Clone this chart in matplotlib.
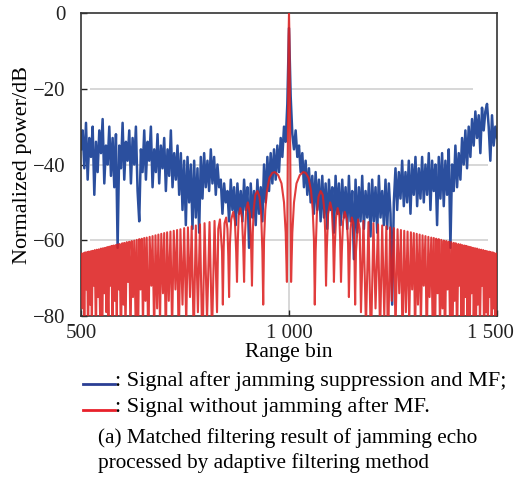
import numpy as np
import matplotlib.pyplot as plt
from matplotlib.transforms import ScaledTranslation

plt.rcParams['font.family'] = ['Liberation Serif', 'DejaVu Serif']

# blue: signal after jamming suppression and MF (read every 4 range bins)
blue_bins = np.arange(500, 1501, 4)
blue_db = [
    -36, -31, -41, -29, -44, -33, -38, -30, -48, -34,
    -42, -31, -37, -28, -45, -35, -40, -30, -43, -33,
    -46, -32, -62, -35, -41, -29, -44, -34, -39, -31,
    -45, -33, -40, -30, -47, -55, -36, -42, -31, -44,
    -34, -39, -30, -46, -36, -42, -32, -45, -35, -41,
    -33, -47, -36, -43, -31, -46, -37, -44, -35, -48,
    -37, -52, -39, -56, -38, -50, -40, -57, -39, -54,
    -41, -58, -38, -49, -37, -46, -39, -47, -36, -45,
    -38, -48, -40, -46, -44, -53, -45, -50, -47, -55,
    -44, -52, -46, -56, -45, -53, -47, -55, -44, -52,
    -46, -62, -45, -54, -47, -56, -44, -53, -46, -55,
    -40, -50, -38, -47, -37, -45, -36, -44, -35, -42,
    -33, -38, -30, -34, -24,
    -4,
    -22, -32, -36, -31, -38, -35, -42, -37, -46,
    -39, -48, -41, -50, -43, -53, -42, -52, -44, -55,
    -43, -54, -45, -57, -44, -52, -46, -58, -43, -53,
    -45, -56, -44, -54, -46, -57, -43, -55, -47, -65,
    -44, -58, -46, -55, -43, -57, -47, -54, -45, -59,
    -44, -55, -46, -58, -43, -54, -47, -56, -44, -57,
    -45, -53, -77, -50, -41, -52, -42, -49, -39, -51,
    -42, -50, -39, -53, -40, -48, -38, -51, -41, -49,
    -38, -50, -40, -48, -37, -52, -39, -47, -40, -56,
    -38, -49, -37, -51, -39, -48, -36, -62, -40, -47,
    -35, -46, -37, -44, -33, -40, -31, -41, -30, -38,
    -28, -35, -26, -33, -27, -37, -25, -31, -26, -24,
    -30, -39, -27, -35, -30, -33,
]

# red: signal without jamming after MF, peaks and nulls of the sidelobes
red_left_bins = [
    500, 501, 504, 506, 508, 510, 513, 515, 517, 519,
    522, 524, 526, 528, 531, 533, 536, 538, 541, 543,
    546, 548, 551, 553, 556, 558, 561, 563, 566, 568,
    571, 573, 576, 578, 581, 583, 586, 588, 591, 593,
    596, 599, 602, 604, 607, 610, 613, 616, 619, 622,
    625, 628, 631, 634, 637, 640, 643, 646, 649, 652,
    655, 658, 662, 665, 669, 672, 676, 679, 683, 686,
    690, 693, 697, 700, 704, 707, 711, 715, 719, 723,
    727, 731, 735, 739, 744, 748, 753, 757, 762, 766,
    771, 776, 781, 786, 792, 797, 803, 809, 815, 821,
]
red_left_db = [
    -70, -63.5, -78, -63.4, -84, -63.2, -73, -63.1, -88, -63.0,
    -77, -62.9, -83, -62.8, -72, -62.6, -86, -62.5, -75, -62.4,
    -81, -62.2, -90, -62.1, -74, -62.0, -79, -61.8, -85, -61.7,
    -72, -61.5, -87, -61.4, -76, -61.3, -82, -61.1, -73, -61.0,
    -89, -60.8, -77, -60.7, -84, -60.5, -71, -60.4, -86, -60.2,
    -75, -60.1, -80, -59.9, -88, -59.7, -73, -59.6, -83, -59.4,
    -76, -59.3, -90, -59.1, -72, -58.9, -85, -58.7, -78, -58.5,
    -82, -58.3, -74, -58.1, -87, -57.9, -76, -57.7, -84, -57.5,
    -73, -57.3, -89, -57.1, -77, -56.8, -82, -56.6, -75, -56.3,
    -86, -56.1, -79, -55.8, -90, -55.5, -81, -55.2, -85, -54.9,
]
red_mid_bins = [
    827, 830, 834, 839, 841, 843, 845, 849, 852, 854, 856,
    858, 861, 866, 870, 873, 875, 877, 879, 883, 887, 890, 892,
    894, 897, 901, 906, 909, 911, 913, 915, 919, 924, 929, 933, 936, 938,
    940, 943, 947, 953, 960, 966, 974, 982, 988, 992, 995,
    997, 998, 999, 1000, 1001, 1002, 1003, 1005,
    1008, 1012, 1018, 1026, 1034, 1040, 1047, 1053, 1057, 1060, 1062,
    1064, 1067, 1071, 1076, 1081, 1085, 1087, 1089,
    1091, 1094, 1099, 1103, 1106, 1108, 1110, 1113, 1117, 1121, 1123, 1125,
    1127, 1130, 1134, 1139, 1142, 1144, 1146, 1148, 1151, 1155, 1157, 1159,
    1161, 1166, 1170, 1173,
]
red_mid_db = [
    -79, -57, -54.5, -63, -77, -62, -55.5, -54, -57, -64, -75,
    -61, -54.5, -52.5, -55, -63, -71, -60, -53.5, -51.5, -54, -62, -71,
    -59, -52, -50, -53, -62, -72, -58, -52, -48, -47, -48.5, -53, -63, -77,
    -60, -52, -47, -43.5, -42.2, -42, -42.8, -45, -50, -58, -71,
    -38, -20, -6, 0, -6, -20, -38, -71,
    -58, -50, -45, -42.8, -42, -42.2, -43.5, -47, -52, -60, -77,
    -63, -53, -48.5, -47, -48, -52, -58, -72,
    -62, -53, -50, -52, -59, -71, -62, -54, -51.5, -53.5, -60, -71,
    -63, -55, -52.5, -54.5, -61, -75, -64, -57, -54, -55.5, -62, -77,
    -63, -54.5, -57, -79,
]
red_right_bins = [
    1179, 1185, 1191, 1197, 1203, 1208, 1214, 1219, 1224, 1229,
    1234, 1238, 1243, 1247, 1252, 1256, 1261, 1265, 1269, 1273,
    1277, 1281, 1285, 1289, 1293, 1296, 1300, 1303, 1307, 1310,
    1314, 1317, 1321, 1324, 1328, 1331, 1335, 1338, 1342, 1345,
    1348, 1351, 1354, 1357, 1360, 1363, 1366, 1369, 1372, 1375,
    1378, 1381, 1384, 1387, 1390, 1393, 1396, 1398, 1401, 1404,
    1407, 1409, 1412, 1414, 1417, 1419, 1422, 1424, 1427, 1429,
    1432, 1434, 1437, 1439, 1442, 1444, 1447, 1449, 1452, 1454,
    1457, 1459, 1462, 1464, 1467, 1469, 1472, 1474, 1476, 1478,
    1481, 1483, 1485, 1487, 1490, 1492, 1494, 1496, 1499, 1500,
]
red_right_db = [
    -54.9, -83, -55.2, -88, -55.5, -78, -55.8, -85, -56.1, -80,
    -56.3, -90, -56.6, -76, -56.8, -84, -57.1, -74, -57.3, -87,
    -57.5, -79, -57.7, -82, -57.9, -73, -58.1, -86, -58.3, -77,
    -58.5, -83, -58.7, -72, -58.9, -89, -59.1, -75, -59.3, -81,
    -59.4, -87, -59.6, -74, -59.7, -84, -59.9, -78, -60.1, -90,
    -60.2, -73, -60.4, -82, -60.5, -86, -60.7, -76, -60.8, -88,
    -61.0, -72, -61.1, -80, -61.3, -85, -61.4, -75, -61.5, -83,
    -61.7, -89, -61.8, -74, -62.0, -81, -62.1, -86, -62.2, -77,
    -62.4, -84, -62.5, -72, -62.6, -88, -62.8, -79, -62.9, -83,
    -63.0, -75, -63.1, -87, -63.2, -78, -63.4, -85, -63.5, -70,
]
red_bins = red_left_bins + red_mid_bins + red_right_bins
red_db = red_left_db + red_mid_db + red_right_db

x_ticks = [500, 1000, 1500]
x_labels = ['500', '1 000', '1 500']
y_ticks = [0, -20, -40, -60, -80]
y_labels = ['0', '\u221220', '\u221240', '\u221260', '\u221280']

W, H = 519, 479
fig = plt.figure(figsize=(W / 100, H / 100), dpi=100)
ax = fig.add_axes([81 / W, 1 - 316 / H, 416 / W, 303 / H])

# light grid
ax.hlines([-20], 522, 1442, color='#d4d4d4', lw=1.3, zorder=0)
ax.hlines([-40, -60], 522, 1478, color='#d4d4d4', lw=1.3, zorder=0)
ax.axvline(1000, color='#d4d4d4', lw=1.3, zorder=0)

ax.plot(blue_bins, blue_db, color='#2b4f9e', lw=1.8, zorder=2)
ax.plot(red_bins, red_db, color='#dd2222', lw=1.5, alpha=0.88, zorder=3)

ax.set_xlim(500, 1500)
ax.set_ylim(-80, 0)
ax.set_xticks(x_ticks)
ax.set_xticklabels(x_labels)
ax.set_yticks(y_ticks)
ax.set_yticklabels(y_labels)
ax.tick_params(direction='in', length=4, width=1, labelsize=15, colors='#222222')
ax.tick_params(axis='x', pad=6)
ax.tick_params(axis='y', pad=11)
for s in ax.spines.values():
    s.set_linewidth(1.2)
    s.set_color('#333333')

# last x label sits a little left so it stays inside the picture
last = ax.get_xticklabels()[-1]
last.set_transform(last.get_transform() + ScaledTranslation(-7 / 100, 0, fig.dpi_scale_trans))

ax.set_xlabel('Range bin', fontsize=15.5, labelpad=0)
ax.set_ylabel('Normalized power/dB', fontsize=16, labelpad=1)

# legend drawn below the axes
fig.lines.append(plt.Line2D([83 / W, 115 / W], [1 - 384 / H] * 2, color='#2a3e94', lw=2, transform=fig.transFigure))
fig.lines.append(plt.Line2D([83 / W, 115 / W], [1 - 410 / H] * 2, color='#e8202a', lw=2, transform=fig.transFigure))
fig.text(115 / W, 1 - 381 / H, ': Signal after jamming suppression and MF;', fontsize=16, va='center')
fig.text(115 / W, 1 - 407 / H, ': Signal without jamming after MF.', fontsize=16, va='center')
fig.text(98 / W, 1 - 438 / H, '(a) Matched filtering result of jamming echo', fontsize=15.3, va='center')
fig.text(98 / W, 1 - 463 / H, 'processed by adaptive filtering method', fontsize=15.3, va='center')

plt.savefig('out.png', dpi=100)
